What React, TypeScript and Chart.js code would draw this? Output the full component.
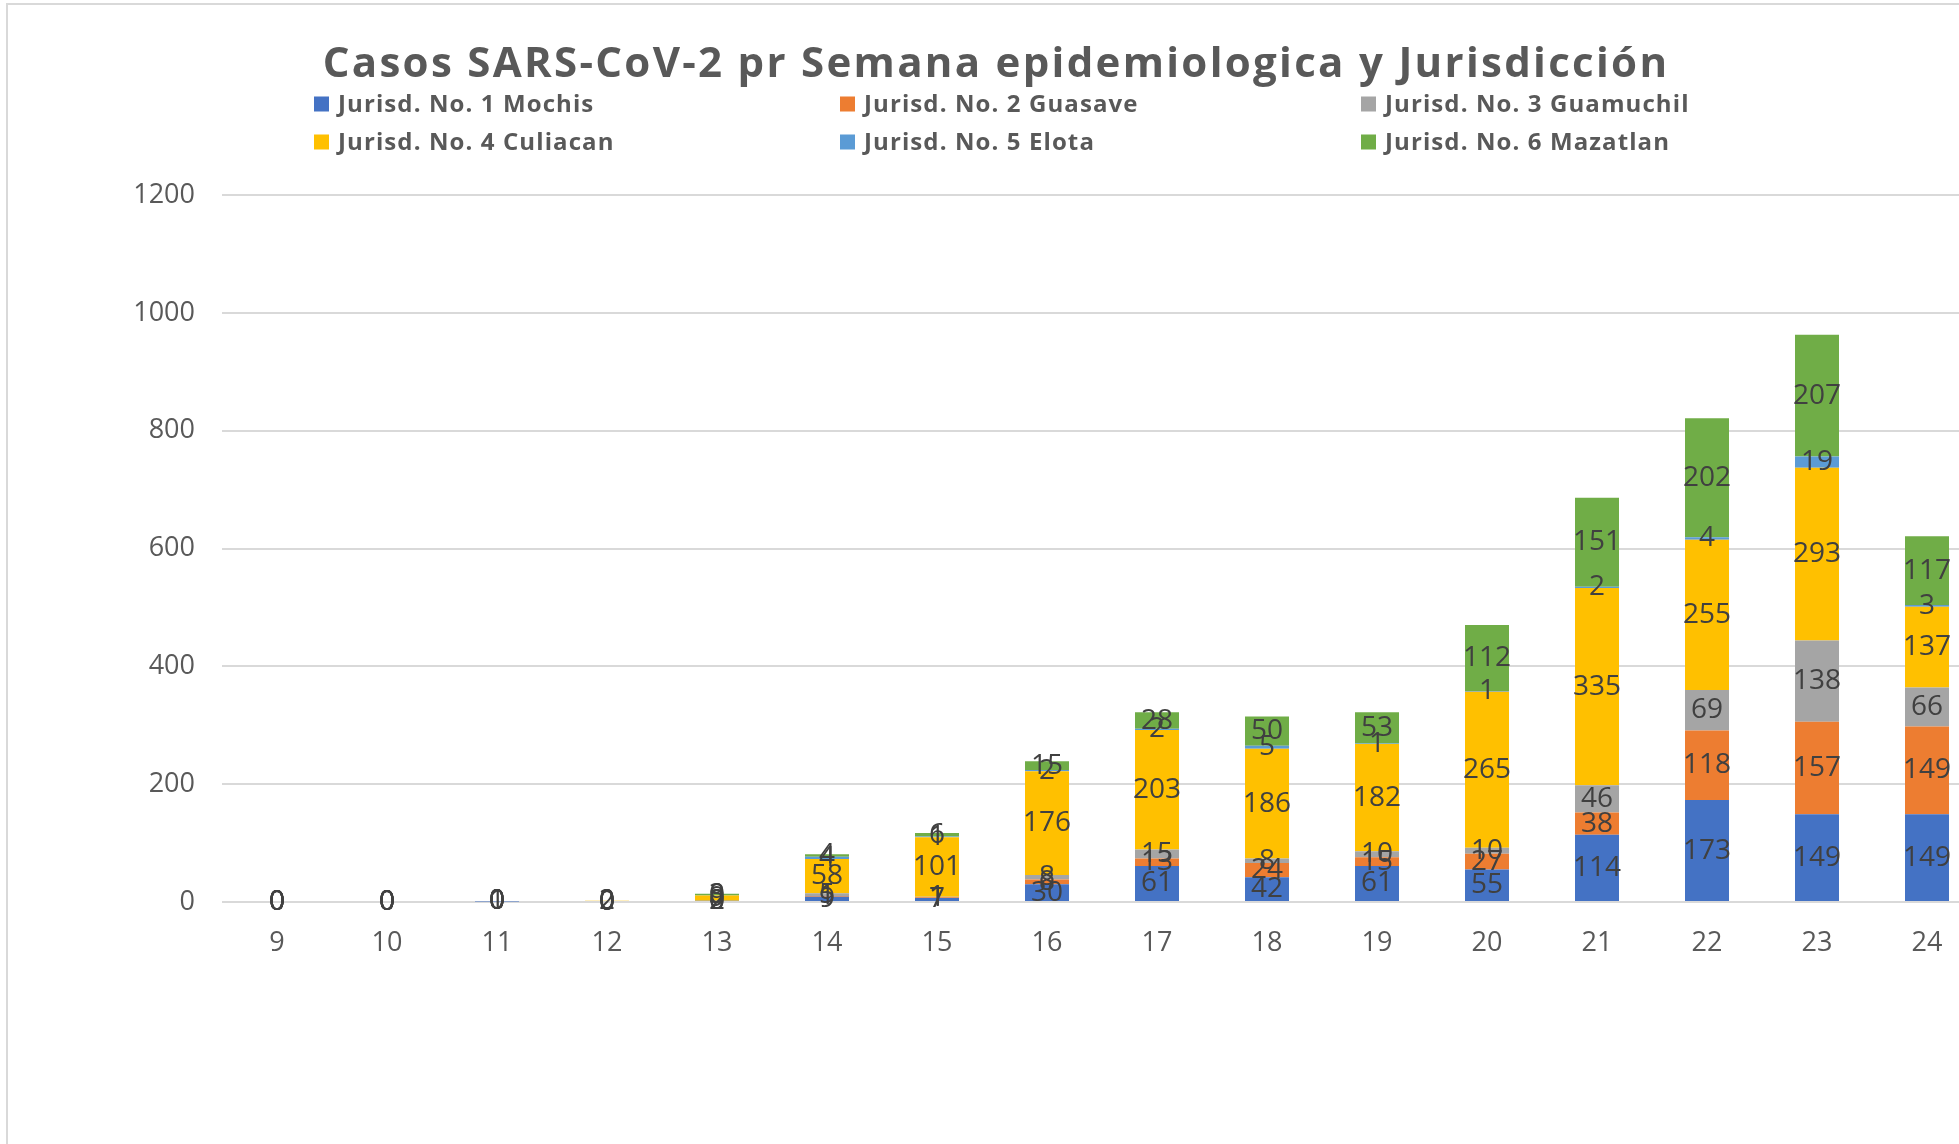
import React, { useEffect, useRef } from 'react';
import { Chart, registerables } from 'chart.js';

Chart.register(...registerables);

const TITLE = 'Casos SARS-CoV-2 pr Semana epidemiologica y Jurisdicción';

const weeks = ['9', '10', '11', '12', '13', '14', '15', '16', '17', '18', '19', '20', '21', '22', '23', '24'];

const mochis = [0, 0, 1, 0, 2, 9, 7, 30, 61, 42, 61, 55, 114, 173, 149, 149];
const guasave = [0, 0, 0, 0, 0, 1, 1, 8, 13, 24, 15, 27, 38, 118, 157, 149];
const guamuchil = [0, 0, 0, 0, 0, 5, 1, 8, 15, 8, 10, 10, 46, 69, 138, 66];
const culiacan = [0, 0, 0, 2, 9, 58, 101, 176, 203, 186, 182, 265, 335, 255, 293, 137];
const elota = [0, 0, 0, 0, 0, 4, 1, 2, 2, 5, 1, 1, 2, 4, 19, 3];
const mazatlan = [0, 0, 0, 0, 3, 4, 6, 15, 28, 50, 53, 112, 151, 202, 207, 117];

const seriesNames = [
  'Jurisd. No. 1 Mochis',
  'Jurisd. No. 2 Guasave',
  'Jurisd. No. 3 Guamuchil',
  'Jurisd. No. 4 Culiacan',
  'Jurisd. No. 5 Elota',
  'Jurisd. No. 6 Mazatlan',
];
const seriesValues = [mochis, guasave, guamuchil, culiacan, elota, mazatlan];
const seriesColors = ['#4472C4', '#ED7D31', '#A5A5A5', '#FFC000', '#5B9BD5', '#70AD47'];

const yTicks = [0, 200, 400, 600, 800, 1000, 1200];

const FONT = "'Open Sans', sans-serif";
const AXIS_COLOR = '#595959';

const decor = {
  id: 'decor',
  beforeDraw(chart: any) {
    const ctx = chart.ctx;
    ctx.save();
    ctx.fillStyle = '#ffffff';
    ctx.fillRect(0, 0, chart.width, chart.height);
    ctx.strokeStyle = '#d9d9d9';
    ctx.lineWidth = 2;
    ctx.beginPath();
    ctx.moveTo(7, chart.height);
    ctx.lineTo(7, 4);
    ctx.lineTo(chart.width, 4);
    ctx.stroke();
    ctx.restore();
  },
  afterDatasetsDraw(chart: any) {
    const ctx = chart.ctx;
    ctx.save();
    ctx.font = `28px ${FONT}`;
    ctx.fillStyle = '#404040';
    ctx.textAlign = 'center';
    ctx.textBaseline = 'middle';
    chart.data.datasets.forEach((ds: any, di: number) => {
      const meta = chart.getDatasetMeta(di);
      meta.data.forEach((el: any, i: number) => {
        const v = ds.data[i];
        const y = (el.y + el.base) / 2;
        ctx.fillText(String(v), el.x, y);
      });
    });
    ctx.restore();
  },
  afterDraw(chart: any) {
    const ctx = chart.ctx;
    ctx.save();
    // title
    ctx.font = `bold 42px ${FONT}`;
    ctx.fillStyle = AXIS_COLOR;
    ctx.textAlign = 'center';
    ctx.textBaseline = 'alphabetic';
    (ctx as any).letterSpacing = '2.3px';
    ctx.fillText(TITLE, 996, 77);
    // legend in fixed columns
    const colX = [314, 840, 1361];
    const rowY = [104, 142];
    ctx.font = `bold 24px ${FONT}`;
    (ctx as any).letterSpacing = '1.1px';
    ctx.textAlign = 'left';
    ctx.textBaseline = 'middle';
    chart.data.datasets.forEach((ds: any, i: number) => {
      const x = colX[i % 3];
      const y = rowY[Math.floor(i / 3)];
      ctx.fillStyle = ds.backgroundColor;
      ctx.fillRect(x, y - 7.5, 15, 15);
      ctx.fillStyle = AXIS_COLOR;
      ctx.fillText(ds.label, x + 24, y + 1);
    });
    (ctx as any).letterSpacing = '0px';
    ctx.restore();
  },
};

export default function App() {
  const ref = useRef<HTMLCanvasElement>(null);

  useEffect(() => {
    const canvas = ref.current;
    if (!canvas) return;
    const chart = new Chart(canvas, {
      type: 'bar',
      data: {
        labels: weeks,
        datasets: seriesNames.map((name, i) => ({
          label: name,
          data: seriesValues[i],
          backgroundColor: seriesColors[i],
          borderWidth: 0,
          categoryPercentage: 0.4,
          barPercentage: 1,
        })),
      },
      options: {
        responsive: false,
        animation: false,
        layout: { padding: { top: 195, right: 18, left: 0, bottom: 0 } },
        plugins: {
          legend: { display: false },
          title: { display: false },
          tooltip: { enabled: false },
        },
        scales: {
          x: {
            stacked: true,
            grid: { display: false },
            border: { display: false },
            ticks: { color: AXIS_COLOR, font: { family: FONT, size: 27 }, padding: 17 },
            afterFit: (s: any) => {
              s.height = 242;
            },
          },
          y: {
            stacked: true,
            min: yTicks[0],
            max: yTicks[yTicks.length - 1],
            afterBuildTicks: (s: any) => {
              s.ticks = yTicks.map((v) => ({ value: v }));
            },
            ticks: {
              color: AXIS_COLOR,
              font: { family: FONT, size: 27 },
              padding: 27,
              callback: (v: any) => String(v),
            },
            grid: { color: '#d9d9d9', lineWidth: 2, drawTicks: false },
            border: { display: false },
            afterFit: (s: any) => {
              s.width = 222;
            },
          },
        },
      } as any,
      plugins: [decor],
    });
    return () => chart.destroy();
  }, []);

  return (
    <div
      style={{
        position: 'fixed',
        left: 0,
        top: 0,
        width: 1959,
        height: 1144,
        overflow: 'hidden',
        background: '#ffffff',
      }}
    >
      <canvas ref={ref} width={2000} height={1144} style={{ display: 'block', width: 2000, height: 1144 }} />
    </div>
  );
}
